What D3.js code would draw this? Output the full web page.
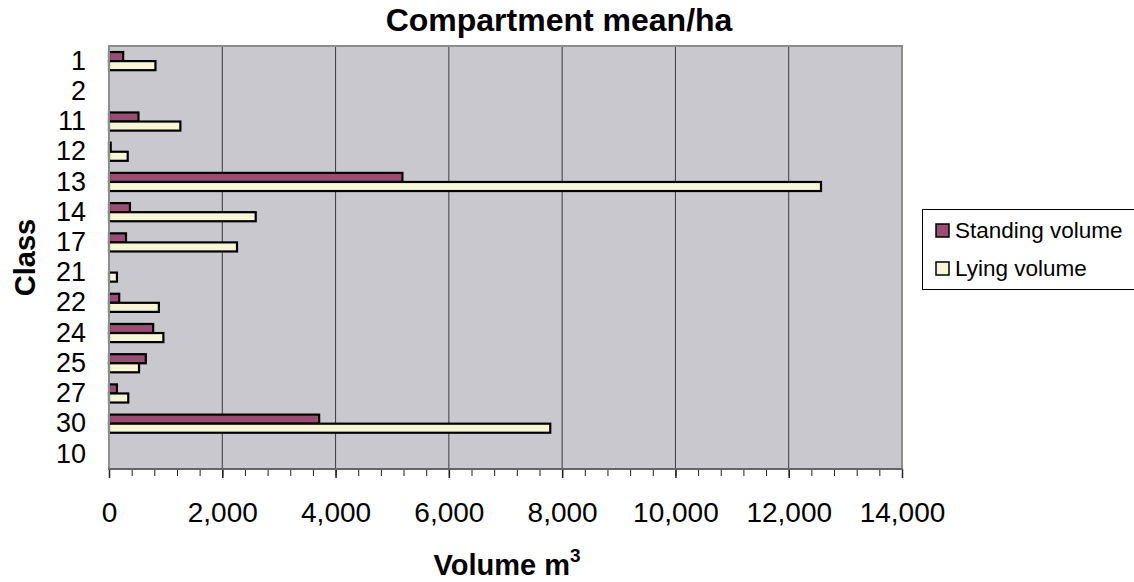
<!DOCTYPE html>
<html>
<head>
<meta charset="utf-8">
<script src="https://cdn.jsdelivr.net/npm/d3@7"></script>
<style>
  html, body { margin: 0; padding: 0; background: #ffffff; }
  svg { display: block; font-family: Arial, "Liberation Sans", sans-serif; }
</style>
</head>
<body>
<svg id="chart" width="1134" height="582"></svg>
<script>
// Classes (top to bottom) and mean volumes per hectare
const classes = ["1", "2", "11", "12", "13", "14", "17", "21", "22", "24", "25", "27", "30", "10"];
const standingVolume = [250, 0, 520, 30, 5180, 370, 300, 0, 180, 780, 650, 140, 3710, 0];
const lyingVolume    = [820, 0, 1260, 330, 12570, 2590, 2260, 140, 880, 960, 530, 340, 7790, 0];
const seriesNames = ["Standing volume", "Lying volume"];
const seriesColors = ["#994d73", "#f7f7d8"];
const xTicks = [0, 2000, 4000, 6000, 8000, 10000, 12000, 14000];
const xMinorTicks = d3.range(0, 14001, 400);

const svg = d3.select("#chart");
const plot = { left: 109, right: 902, top: 46, bottom: 469 };

const x = d3.scaleLinear().domain([0, 14000]).range([plot.left, plot.right]);
const y = d3.scaleBand().domain(classes).range([plot.top, plot.bottom])
  .paddingInner(0.4).paddingOuter(0.2);
const ySub = d3.scaleBand().domain([0, 1]).range([0, y.bandwidth()]);

// Plot background
svg.append("rect")
  .attr("x", plot.left).attr("y", plot.top)
  .attr("width", plot.right - plot.left).attr("height", plot.bottom - plot.top)
  .attr("fill", "#c9c8ce");

// Vertical gridlines at the major ticks
svg.append("g").selectAll("line")
  .data(xTicks.slice(1, -1))
  .join("line")
  .attr("x1", d => x(d)).attr("x2", d => x(d))
  .attr("y1", plot.top).attr("y2", plot.bottom)
  .attr("stroke", "#3a3a3a").attr("stroke-width", 1);

// Plot frame
svg.append("rect")
  .attr("x", plot.left).attr("y", plot.top)
  .attr("width", plot.right - plot.left).attr("height", plot.bottom - plot.top)
  .attr("fill", "none").attr("stroke", "#8c8c8c").attr("stroke-width", 2);

// Bars
const rows = classes.map((c, i) => ({ c, vals: [standingVolume[i], lyingVolume[i]] }));
const groups = svg.append("g").selectAll("g")
  .data(rows)
  .join("g")
  .attr("transform", d => `translate(0,${y(d.c)})`);

groups.selectAll("rect")
  .data(d => d.vals.map((v, s) => ({ v, s })).filter(d => d.v > 0))
  .join("rect")
  .attr("x", x(0))
  .attr("y", d => ySub(d.s))
  .attr("width", d => x(d.v) - x(0))
  .attr("height", ySub.bandwidth())
  .attr("fill", d => seriesColors[d.s])
  .attr("stroke", "#000")
  .attr("stroke-width", 2.2);

// Left axis line
svg.append("line")
  .attr("x1", plot.left).attr("x2", plot.left)
  .attr("y1", plot.top).attr("y2", plot.bottom)
  .attr("stroke", "#8c8c8c").attr("stroke-width", 2);

// Bottom axis with major and minor ticks
const xAxisG = svg.append("g").attr("transform", `translate(0,${plot.bottom})`);
xAxisG.append("g")
  .call(d3.axisBottom(x).tickValues(xMinorTicks).tickSize(7).tickFormat(""))
  .call(g => g.select(".domain").remove())
  .call(g => g.selectAll("line").attr("stroke", "#222").attr("stroke-width", 1));
xAxisG.append("g")
  .call(d3.axisBottom(x).tickValues(xTicks).tickSize(9).tickPadding(24)
    .tickFormat(d3.format(",")))
  .call(g => g.select(".domain").remove())
  .call(g => g.selectAll("line").attr("stroke", "#222").attr("stroke-width", 1.5))
  .call(g => g.selectAll("text")
    .attr("font-size", 28).attr("fill", "#000")
    .attr("font-family", "Arial, 'Liberation Sans', sans-serif"));
xAxisG.append("line")
  .attr("x1", plot.left - 1).attr("x2", plot.right + 1)
  .attr("stroke", "#666").attr("stroke-width", 2);

// Category labels
svg.append("g")
  .call(d3.axisLeft(y).tickSize(0).tickPadding(0))
  .attr("transform", `translate(86,0)`)
  .call(g => g.select(".domain").remove())
  .call(g => g.selectAll("text")
    .attr("font-size", 27).attr("fill", "#000")
    .attr("font-family", "Arial, 'Liberation Sans', sans-serif"));

// Title
svg.append("text")
  .attr("x", 559).attr("y", 31)
  .attr("text-anchor", "middle")
  .attr("font-size", 32).attr("font-weight", "bold")
  .text("Compartment mean/ha");

// Axis titles
const xTitle = svg.append("text")
  .attr("x", 507).attr("y", 575)
  .attr("text-anchor", "middle")
  .attr("font-size", 29).attr("font-weight", "bold");
xTitle.append("tspan").text("Volume m");
xTitle.append("tspan").attr("dy", -13).attr("font-size", 19).text("3");

svg.append("text")
  .attr("transform", `translate(35,${(plot.top + plot.bottom) / 2}) rotate(-90)`)
  .attr("text-anchor", "middle")
  .attr("font-size", 29).attr("font-weight", "bold")
  .text("Class");

// Legend
const legend = svg.append("g");
legend.append("rect")
  .attr("x", 922.5).attr("y", 209.5)
  .attr("width", 230).attr("height", 80)
  .attr("fill", "#fff").attr("stroke", "#000").attr("stroke-width", 1);
const items = legend.selectAll("g.item")
  .data(seriesNames)
  .join("g").attr("class", "item")
  .attr("transform", (d, i) => `translate(936,${224 + i * 38})`);
items.append("rect")
  .attr("width", 13).attr("height", 13)
  .attr("fill", (d, i) => seriesColors[i])
  .attr("stroke", "#000").attr("stroke-width", 1.5);
items.append("text")
  .attr("x", 19).attr("y", 13.5)
  .attr("font-size", 22.5)
  .text(d => d);
</script>
</body>
</html>
